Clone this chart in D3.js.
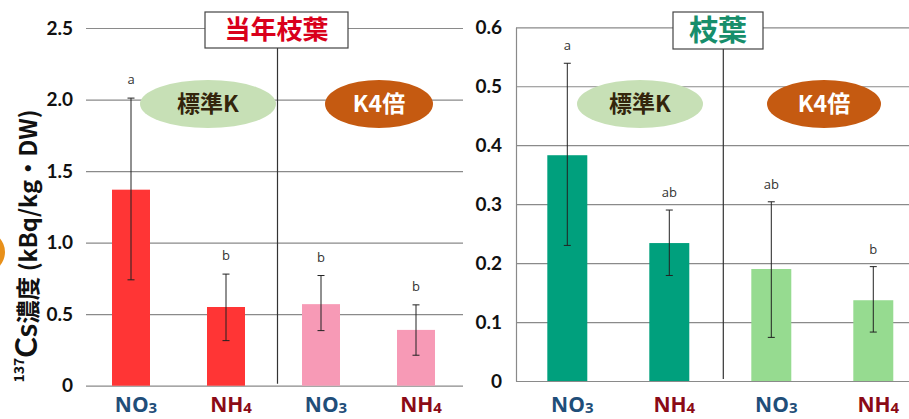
<!DOCTYPE html>
<html><head><meta charset="utf-8">
<script src="https://cdn.jsdelivr.net/npm/d3@7"></script>
<style>
body{margin:0;background:#fff;}
svg{display:block;}
</style></head>
<body>
<svg id="c" width="909" height="419"></svg>
<script>
// ---- data ----
const categories = ["NO3","NH4","NO3","NH4"];
const groups = ["標準K","K4倍"];
// 当年枝葉
const leftMeans  = [1.37, 0.55, 0.57, 0.39];
const leftUpper  = [2.01, 0.78, 0.77, 0.565];
const leftLower  = [0.74, 0.315, 0.385, 0.213];
const leftLetters = ["a","b","b","b"];
const leftTicks = [0, 0.5, 1.0, 1.5, 2.0, 2.5];
const leftTickLabels = ["0","0.5","1.0","1.5","2.0","2.5"];
// 枝葉
const rightMeans = [0.383, 0.234, 0.19, 0.137];
const rightUpper = [0.539, 0.29, 0.304, 0.194];
const rightLower = [0.23, 0.179, 0.074, 0.083];
const rightLetters = ["a","ab","ab","b"];
const rightTicks = [0, 0.1, 0.2, 0.3, 0.4, 0.5, 0.6];
const rightTickLabels = ["0","0.1","0.2","0.3","0.4","0.5","0.6"];
const yTitle = ["137","Cs","濃度 (kBq/kg・DW)"];

const svg = d3.select("#c");
const numFont = "Lato, 'Open Sans', sans-serif";
const jpFont = "'Noto Sans CJK JP', sans-serif";

// decorative orange circle at left edge
svg.append("circle").attr("cx",-16).attr("cy",252).attr("r",21).attr("fill","#E8901A");

function panel(opt){
  const g = svg.append("g");
  const x = d3.scaleBand().domain(d3.range(categories.length))
    .range(opt.xr).paddingInner(opt.pi).paddingOuter(opt.po);
  const y = d3.scaleLinear().domain(opt.domain).range(opt.yr);

  // axis with gridlines
  const ax = d3.axisLeft(y).tickValues(opt.ticks)
    .tickFormat((d,i)=>opt.tickLabels[i])
    .tickSizeInner(-(opt.gridEnd-opt.gridStart)).tickSizeOuter(0).tickPadding(opt.tickPad);
  const ag = g.append("g").attr("transform",`translate(${opt.gridStart},0)`).call(ax);
  ag.selectAll(".tick line").attr("stroke","#8a8a8a").attr("stroke-width",1.2);
  ag.select(".domain").attr("stroke", opt.showDomain ? "#8a8a8a" : "none").attr("stroke-width",1.2);
  ag.selectAll(".tick text").attr("font-family",numFont).attr("font-weight","bold")
    .attr("font-size",19).attr("fill","#111");

  // ellipses (group labels)
  opt.ellipses.forEach(e=>{
    g.append("ellipse").attr("cx",e.cx).attr("cy",e.cy).attr("rx",e.rx).attr("ry",e.ry).attr("fill",e.fill);
    g.append("text").attr("x",e.cx).attr("y",e.cy+8).attr("text-anchor","middle")
      .attr("font-family",jpFont).attr("font-weight","bold").attr("font-size",23)
      .attr("fill",e.color).text(e.label);
  });

  // divider
  const divX = (x(1)+x.bandwidth()/2 + x(2)+x.bandwidth()/2)/2 + opt.divOff;
  g.append("line").attr("x1",divX).attr("x2",divX).attr("y1",opt.box.y+opt.box.h).attr("y2",y(0)-2)
    .attr("stroke","#333").attr("stroke-width",1.2);

  // bars
  g.selectAll("rect.bar").data(opt.means).join("rect").attr("class","bar")
    .attr("x",(d,i)=>x(i)).attr("width",x.bandwidth())
    .attr("y",d=>y(d)).attr("height",d=>y(0)-y(d))
    .attr("fill",(d,i)=>opt.colors[i]);

  // error bars
  const cap = 3.5;
  opt.means.forEach((m,i)=>{
    const cx = x(i)+x.bandwidth()/2;
    g.append("line").attr("x1",cx).attr("x2",cx).attr("y1",y(opt.upper[i])).attr("y2",y(opt.lower[i]))
      .attr("stroke","#222").attr("stroke-width",1);
    [opt.upper[i],opt.lower[i]].forEach(v=>{
      g.append("line").attr("x1",cx-cap).attr("x2",cx+cap).attr("y1",y(v)).attr("y2",y(v))
        .attr("stroke","#222").attr("stroke-width",1);
    });
    g.append("text").attr("x",cx).attr("y",y(opt.upper[i])-opt.letterGap)
      .attr("text-anchor","middle").attr("font-family","'Open Sans', sans-serif")
      .attr("font-size",13).attr("fill","#333").text(opt.letters[i]);
    // category label
    const t = g.append("text").attr("x",cx+5).attr("y",opt.labelY).attr("text-anchor","middle")
      .attr("font-family","'Open Sans', sans-serif").attr("font-weight",700).attr("font-size",21)
      .attr("fill", categories[i]==="NO3" ? "#1F4E79" : "#8B0A16");
    t.append("tspan").text(categories[i].slice(0,2));
    t.append("tspan").attr("font-size",15).attr("dy",1).text(categories[i].slice(2));
  });

  // title box
  g.append("rect").attr("x",opt.box.x).attr("y",opt.box.y).attr("width",opt.box.w).attr("height",opt.box.h)
    .attr("fill","#fff").attr("stroke","#444").attr("stroke-width",1.2);
  g.append("text").attr("x",opt.box.x+opt.box.w/2).attr("y",opt.box.y+opt.box.h/2+opt.box.fs*0.36)
    .attr("text-anchor","middle").attr("font-family",jpFont).attr("font-weight","bold")
    .attr("font-size",opt.box.fs).attr("fill",opt.box.color).text(opt.box.text);
}

panel({
  xr:[83.5,463.5], pi:0.6, po:0.3, domain:[0,2.5], yr:[385.7,28],
  ticks:leftTicks, tickLabels:leftTickLabels, gridStart:86, gridEnd:463, tickPad:13, showDomain:false,
  means:leftMeans, upper:leftUpper, lower:leftLower, letters:leftLetters,
  colors:["#FF3535","#FF3535","#F79AB6","#F79AB6"], letterGap:14, divOff:4, labelY:412,
  ellipses:[
    {cx:208,cy:104,rx:68,ry:24,fill:"#C7E0B6",color:"#33250C",label:groups[0]},
    {cx:379,cy:104,rx:54,ry:24,fill:"#C55A11",color:"#FFFFFF",label:groups[1]}
  ],
  box:{x:205,y:12,w:143,h:36,fs:26,color:"#D9001B",text:"当年枝葉"}
});

panel({
  xr:[516,924.6], pi:0.608, po:0.307, domain:[0,0.6], yr:[381,27.3],
  ticks:rightTicks, tickLabels:rightTickLabels, gridStart:516, gridEnd:909, tickPad:14, showDomain:true,
  means:rightMeans, upper:rightUpper, lower:rightLower, letters:rightLetters,
  colors:["#00A07D","#00A07D","#96DB90","#96DB90"], letterGap:13, divOff:3, labelY:412,
  ellipses:[
    {cx:640,cy:104,rx:63,ry:24,fill:"#C7E0B6",color:"#33250C",label:groups[0]},
    {cx:824,cy:104,rx:57,ry:24,fill:"#C55A11",color:"#FFFFFF",label:groups[1]}
  ],
  box:{x:673,y:12,w:90,h:37,fs:29,color:"#178E6B",text:"枝葉"}
});

// y-axis title
const yt = svg.append("text").attr("transform","translate(37,246) rotate(-90)")
  .attr("text-anchor","middle").attr("font-family",jpFont).attr("font-weight","bold").attr("fill","#111");
yt.append("tspan").attr("font-size",14).attr("dy",-13).text(yTitle[0]);
yt.append("tspan").attr("font-size",31).attr("dy",13).attr("font-family",numFont).text(yTitle[1]);
yt.append("tspan").attr("font-size",23.5).text(yTitle[2]);
</script>
</body></html>
